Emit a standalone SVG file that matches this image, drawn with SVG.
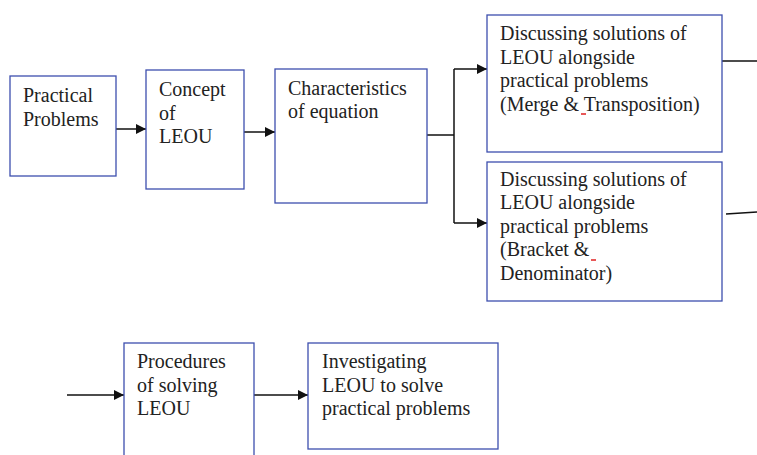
<svg xmlns="http://www.w3.org/2000/svg" width="757" height="455" viewBox="0 0 757 455">
<style>
.box{fill:#fff;stroke:#3d4fae;stroke-width:1.3}
.t{font-family:"Liberation Serif","Times New Roman",serif;font-size:20px;fill:#222}
.c{stroke:#111;stroke-width:1.5;fill:none}
.sp{stroke:#e02020;stroke-width:1.5}
</style>
<defs>
<marker id="ah" viewBox="0 0 10 10" refX="10" refY="5" markerWidth="10" markerHeight="10" markerUnits="userSpaceOnUse" orient="auto">
<path d="M0,0 L10,5 L0,10 z" fill="#111"/>
</marker>
</defs>
<rect width="757" height="455" fill="#fff"/>
<g id="connectors">
<line class="c" x1="116" y1="129" x2="146" y2="129" marker-end="url(#ah)"/>
<line class="c" x1="244" y1="132" x2="275" y2="132" marker-end="url(#ah)"/>
<line class="c" x1="427" y1="135" x2="454" y2="135"/>
<line class="c" x1="454" y1="69" x2="454" y2="223"/>
<line class="c" x1="454" y1="69" x2="487" y2="69" marker-end="url(#ah)"/>
<line class="c" x1="454" y1="223" x2="487" y2="223" marker-end="url(#ah)"/>
<line class="c" x1="722" y1="61" x2="757" y2="61"/>
<line class="c" x1="726" y1="214" x2="757" y2="212"/>
<line class="c" x1="67" y1="395" x2="124" y2="395" marker-end="url(#ah)"/>
<line class="c" x1="254" y1="395" x2="308" y2="395" marker-end="url(#ah)"/>
</g>
<g id="n1">
<rect class="box" x="10" y="76" width="106" height="100"/>
<text class="t" x="23" y="102">Practical</text>
<text class="t" x="23" y="126">Problems</text>
</g>
<g id="n2">
<rect class="box" x="146" y="70" width="98" height="119"/>
<text class="t" x="159" y="96">Concept</text>
<text class="t" x="159" y="120">of</text>
<text class="t" x="159" y="143">LEOU</text>
</g>
<g id="n3">
<rect class="box" x="275" y="69" width="152" height="134"/>
<text class="t" x="288" y="95">Characteristics</text>
<text class="t" x="288" y="118">of equation</text>
</g>
<g id="n4">
<rect class="box" x="487" y="15" width="235" height="137"/>
<text class="t" x="500" y="40">Discussing solutions of</text>
<text class="t" x="500" y="64">LEOU alongside</text>
<text class="t" x="500" y="87">practical problems</text>
<text class="t" x="500" y="111">(Merge &amp; Transposition)</text>
<line class="sp" x1="581" y1="114" x2="586" y2="114"/>
</g>
<g id="n5">
<rect class="box" x="487" y="162" width="235" height="139"/>
<text class="t" x="500" y="186">Discussing solutions of</text>
<text class="t" x="500" y="209">LEOU alongside</text>
<text class="t" x="500" y="233">practical problems</text>
<text class="t" x="500" y="256">(Bracket &amp; </text>
<line class="sp" x1="591" y1="260" x2="596" y2="260"/>
<text class="t" x="500" y="280">Denominator)</text>
</g>
<g id="n6">
<rect class="box" x="124" y="343" width="130" height="120"/>
<text class="t" x="137" y="368">Procedures</text>
<text class="t" x="137" y="392">of solving</text>
<text class="t" x="137" y="415">LEOU</text>
</g>
<g id="n7">
<rect class="box" x="308" y="343" width="190" height="106"/>
<text class="t" x="322" y="368">Investigating</text>
<text class="t" x="322" y="392">LEOU to solve</text>
<text class="t" x="322" y="415">practical problems</text>
</g>
</svg>
